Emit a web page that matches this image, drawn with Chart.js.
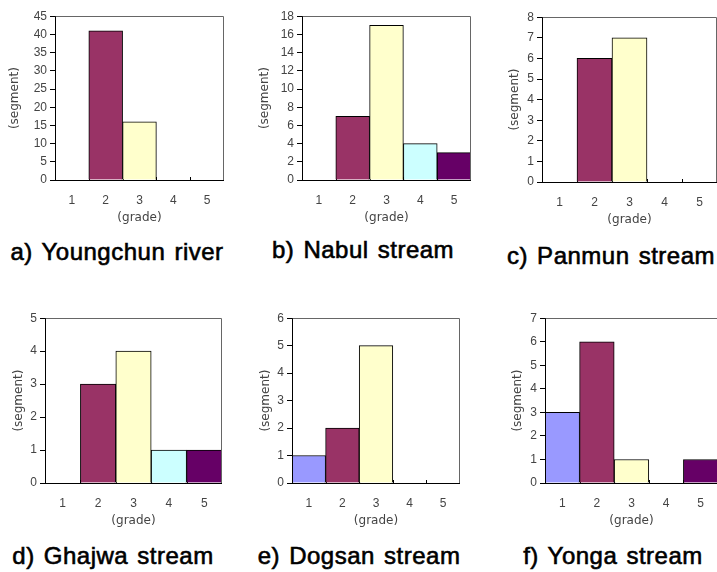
<!DOCTYPE html>
<html>
<head>
<meta charset="utf-8">
<script src="https://cdn.jsdelivr.net/npm/chart.js@4.4.0/dist/chart.umd.min.js"></script>
<style>
  body { margin: 0; background: #fff; width: 717px; height: 572px; position: relative; overflow: hidden; }
  canvas { position: absolute; }
  .cap {
    position: absolute; white-space: nowrap; color: #000;
    font-family: "Liberation Sans", Arial, sans-serif; font-weight: normal; font-size: 24px;
    letter-spacing: 0.5px; word-spacing: 2px; -webkit-text-stroke: 0.6px #000;
    transform: translate(-50%, -50%);
  }
</style>
</head>
<body>
<script>
// grades on the x axis
const grades = ["1", "2", "3", "4", "5"];

// number of segments per grade
const youngchun = [0, 41, 16, 0, 0];
const nabul = [0, 7, 17, 4, 3];
const panmun = [0, 6, 7, 0, 0];
const ghajwa = [0, 3, 4, 1, 1];
const dogsan = [1, 2, 5, 0, 0];
const yonga = [3, 6, 1, 0, 1];

// y axis range / tick step for each panel
const yMax = [45, 18, 8, 5, 6, 7];
const yStep = [5, 2, 1, 1, 1, 1];

const captions = [
  "a) Youngchun river",
  "b) Nabul stream",
  "c) Panmun stream",
  "d) Ghajwa stream",
  "e) Dogsan stream",
  "f) Yonga stream",
];

const seriesList = [youngchun, nabul, panmun, ghajwa, dogsan, yonga];

// colour for each grade (excel palette)
const gradeColors = ["#9999ff", "#993366", "#ffffcc", "#ccffff", "#660066"];

// plot rectangles [left, top, right, bottom], y axis width, caption centre
const layout = [
  { plot: [55, 14, 224, 180], yw: 49, cap: [117, 252] },
  { plot: [302, 14, 471, 180], yw: 46, cap: [363, 250] },
  { plot: [542, 15, 717, 182], yw: 36, cap: [611, 256] },
  { plot: [45, 316, 222, 483], yw: 35, cap: [113, 556] },
  { plot: [292, 316, 460, 483], yw: 35, cap: [359, 556] },
  { plot: [545, 316, 718, 483], yw: 36, cap: [613, 556] },
];

const axisFont = { family: "'Liberation Sans', Arial, sans-serif", size: 12 };
const titleFont = { family: "'DejaVu Sans', sans-serif", size: 12 };
const axisColor = "#444";

// gray top/right border of the plot, inward ticks on the x axis,
// and the black axis lines redrawn over the bar bottoms
const framePlugin = {
  id: "frame",
  beforeDatasetsDraw(chart) {
    const { ctx, chartArea: a } = chart;
    const x = chart.scales.x;
    ctx.save();
    ctx.strokeStyle = "#000";
    ctx.lineWidth = 1;
    ctx.beginPath();
    for (let i = 0; i < grades.length - 1; i++) {
      const px = Math.round((x.getPixelForValue(i) + x.getPixelForValue(i + 1)) / 2) + 0.5;
      ctx.moveTo(px, a.bottom);
      ctx.lineTo(px, a.bottom - 3);
    }
    ctx.stroke();
    ctx.restore();
  },
  afterDatasetsDraw(chart) {
    const { ctx, chartArea: a } = chart;
    const top = Math.round(a.top) + 0.5;
    const right = Math.round(a.right) - 0.5;
    const left = Math.round(a.left) + 0.5;
    const bottom = Math.round(a.bottom) + 0.5;
    ctx.save();
    ctx.lineWidth = 1;
    ctx.strokeStyle = "#666";
    ctx.beginPath();
    ctx.moveTo(left, top);
    ctx.lineTo(right, top);
    ctx.lineTo(right, bottom);
    ctx.stroke();
    ctx.strokeStyle = "#000";
    ctx.beginPath();
    ctx.moveTo(left, top);
    ctx.lineTo(left, bottom);
    ctx.lineTo(right + 0.5, bottom);
    ctx.stroke();
    ctx.restore();
  },
};

function makeChart(idx) {
  const lay = layout[idx];
  const [l, t, r, b] = lay.plot;
  const padTop = 8;
  const xh = 51;
  const w = r - l + lay.yw;
  const h = padTop + (b - t) + xh;

  const cv = document.createElement("canvas");
  cv.width = w;
  cv.height = h;
  cv.style.left = l - lay.yw + "px";
  cv.style.top = t - padTop + "px";
  cv.style.width = w + "px";
  cv.style.height = h + "px";
  document.body.appendChild(cv);

  new Chart(cv, {
    type: "bar",
    data: {
      labels: grades,
      datasets: [
        {
          data: seriesList[idx],
          backgroundColor: gradeColors,
          borderColor: "#000",
          borderWidth: 1,
          categoryPercentage: 1,
          barPercentage: 1,
        },
      ],
    },
    options: {
      responsive: false,
      animation: false,
      devicePixelRatio: 1,
      layout: { padding: { top: padTop, right: 0, left: 0, bottom: 0 } },
      plugins: { legend: { display: false }, tooltip: { enabled: false } },
      scales: {
        x: {
          offset: true,
          grid: { display: false },
          border: { display: true, color: "#000", width: 1 },
          ticks: { color: axisColor, font: axisFont, padding: 5, maxRotation: 0 },
          title: { display: true, text: "(grade)", color: axisColor, font: titleFont, padding: { top: 2, bottom: 6 } },
          afterFit(s) { s.height = xh; },
        },
        y: {
          min: 0,
          max: yMax[idx],
          ticks: { stepSize: yStep[idx], color: axisColor, font: axisFont, padding: 3 },
          grid: { display: true, drawOnChartArea: false, drawTicks: true, tickLength: 5, color: "#000" },
          border: { display: true, color: "#000", width: 1 },
          title: { display: true, text: "(segment)", color: axisColor, font: titleFont, padding: { top: 2, bottom: 0 } },
          afterFit(s) { s.width = lay.yw; },
        },
      },
    },
    plugins: [framePlugin],
  });

  const cap = document.createElement("div");
  cap.className = "cap";
  cap.textContent = captions[idx];
  cap.style.left = lay.cap[0] + "px";
  cap.style.top = lay.cap[1] + "px";
  document.body.appendChild(cap);
}

for (let i = 0; i < layout.length; i++) makeChart(i);
</script>
</body>
</html>
